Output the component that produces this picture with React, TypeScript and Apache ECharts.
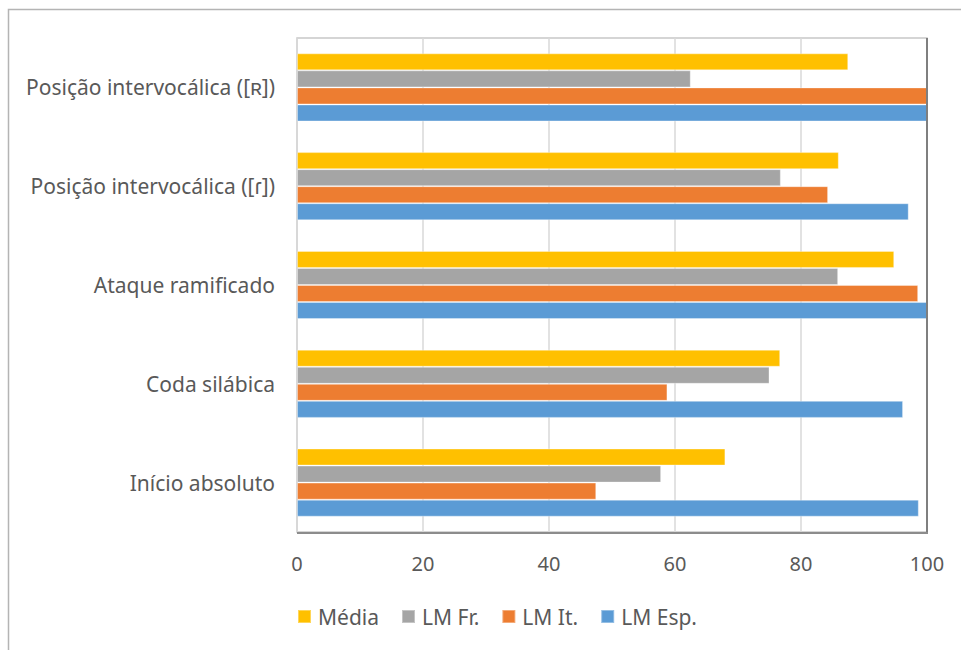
import React, { useEffect, useRef } from "react";
import * as echarts from "echarts";

const categories = [
  "Início absoluto",
  "Coda silábica",
  "Ataque ramificado",
  "Posição intervocálica ([ɾ])",
  "Posição intervocálica ([ʀ])",
];
const lmEsp = [98.7, 96.2, 100, 97.1, 100];
const lmIt = [47.5, 58.8, 98.6, 84.3, 100];
const lmFr = [57.8, 75.0, 85.9, 76.8, 62.5];
const media = [68.0, 76.7, 94.8, 86.0, 87.5];
const legendOrder = ["Média", "LM Fr.", "LM It.", "LM Esp."];

const FONT = '"Noto Sans", "Open Sans", sans-serif';
const TEXT = "#595959";

export default function App() {
  const ref = useRef<HTMLDivElement>(null);
  useEffect(() => {
    if (!ref.current) return;
    const chart = echarts.init(ref.current, null, { renderer: "svg" });
    const mk = (name: string, data: number[], color: string) => ({
      name,
      type: "bar",
      data,
      barGap: "0%",
      barCategoryGap: "31%",
      itemStyle: { color, borderColor: "rgba(255,255,255,0.35)", borderWidth: 1 },
    });
    chart.setOption({
      animation: false,
      backgroundColor: "#ffffff",
      textStyle: { fontFamily: FONT },
      grid: {
        left: 297,
        top: 38,
        right: 34,
        bottom: 118,
        show: true,
        borderColor: "#c8c8c8",
        borderWidth: 1.5,
        backgroundColor: "transparent",
      },
      legend: {
        data: legendOrder,
        left: 292,
        top: 601,
        itemWidth: 13,
        itemHeight: 13,
        itemGap: 22,
        icon: "rect",
        textStyle: { color: TEXT, fontSize: 21, fontFamily: FONT, padding: [0, 0, 0, 2] },
      },
      xAxis: {
        type: "value",
        min: 0,
        max: 100,
        interval: 20,
        axisLine: { show: false },
        axisTick: { show: false },
        splitLine: { lineStyle: { color: "#d9d9d9", width: 1.5 } },
        axisLabel: { color: TEXT, fontSize: 20, margin: 21, fontFamily: FONT },
      },
      yAxis: {
        type: "category",
        data: categories,
        axisLine: { show: false },
        axisTick: { show: false },
        splitLine: { show: false },
        axisLabel: { color: TEXT, fontSize: 21, margin: 22, fontFamily: FONT },
      },
      graphic: [
        {
          type: "rect",
          shape: { x: 8.5, y: 9.5, width: 980, height: 700 },
          style: { fill: "none", stroke: "#b4b4b4", lineWidth: 1.5 },
          silent: true,
        },
        {
          type: "line",
          shape: { x1: 927, y1: 38, x2: 927, y2: 533 },
          style: { stroke: "#7f7f7f", lineWidth: 2 },
          z: 10,
          silent: true,
        },
        {
          type: "line",
          shape: { x1: 297, y1: 533, x2: 928, y2: 533 },
          style: { stroke: "#8c8c8c", lineWidth: 2 },
          z: 10,
          silent: true,
        },
      ],
      series: [
        mk("Média", media, "#FFC000"),
        mk("LM Fr.", lmFr, "#A5A5A5"),
        mk("LM It.", lmIt, "#ED7D31"),
        mk("LM Esp.", lmEsp, "#5B9BD5"),
      ],
    });
    return () => chart.dispose();
  }, []);
  return (
    <div
      ref={ref}
      style={{ position: "absolute", left: 0, top: 0, width: 961, height: 650 }}
    />
  );
}
